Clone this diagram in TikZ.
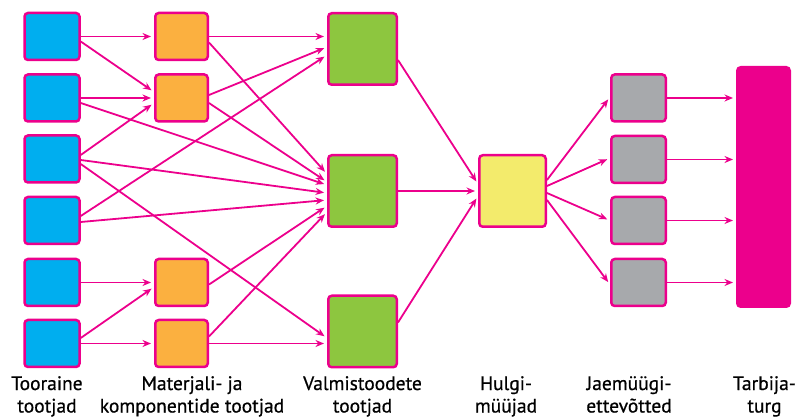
\documentclass[tikz,border=0pt]{standalone}
\usepackage{fontspec}
\newfontfamily\labelfont[FakeBold=0.7]{PT Sans}
\usetikzlibrary{calc,arrows.meta}
\definecolor{mag}{HTML}{EC008C}
\definecolor{cblue}{HTML}{00AEEF}
\definecolor{corange}{HTML}{FBB040}
\definecolor{cgreen}{HTML}{8DC63F}
\definecolor{cyellow}{HTML}{F3EB6C}
\definecolor{cgray}{HTML}{A7A9AC}
\begin{document}
\begin{tikzpicture}[x=1pt,y=-1pt,
  box/.style={draw=mag,line width=2.5pt,rounded corners=3.5pt,inner sep=0pt},
  small/.style={box,minimum width=55pt,minimum height=47pt},
  rawbox/.style={small,fill=cblue},
  matbox/.style={box,fill=corange,minimum width=52.5pt,minimum height=47pt},
  finbox/.style={box,fill=cgreen,minimum width=68.5pt,minimum height=71.5pt},
  wholebox/.style={box,fill=cyellow,minimum width=66.5pt,minimum height=71.5pt},
  retbox/.style={box,fill=cgray,minimum width=54.5pt,minimum height=47pt},
  marketbox/.style={box,fill=mag,minimum width=52.5pt,minimum height=239.5pt},
  flow/.style={draw=mag,line width=1.8pt,-{Stealth[length=8.5pt,width=7pt]},shorten >=3pt},
  lbl/.style={font=\labelfont\fontsize{19.5}{22.5}\selectfont,align=center,anchor=north,inner sep=0pt,text=black}]
\useasboundingbox (0,0) rectangle (795,419);
% raw material producers
\node[rawbox] (b1) at (52,36.5) {};
\node[rawbox] (b2) at (52,98) {};
\node[rawbox] (b3) at (52,159) {};
\node[rawbox] (b4) at (52,220.5) {};
\node[rawbox] (b5) at (52,282.5) {};
\node[rawbox] (b6) at (52,343.5) {};
% material producers
\node[matbox] (o1) at (181.5,36.5) {};
\node[matbox] (o2) at (181.5,98) {};
\node[matbox] (o5) at (181.5,282.5) {};
\node[matbox] (o6) at (181.5,343.5) {};
% finished goods
\node[finbox] (g1) at (362.5,49) {};
\node[finbox] (g2) at (362.5,191) {};
\node[finbox] (g3) at (362.5,331.5) {};
% wholesale
\node[wholebox] (y) at (512.5,191) {};
% retail
\node[retbox] (r1) at (638.5,98) {};
\node[retbox] (r2) at (638.5,159.5) {};
\node[retbox] (r3) at (638.5,220.5) {};
\node[retbox] (r4) at (638.5,282.5) {};
% consumer market
\node[marketbox] (m) at (763.5,187) {};
% edges
\draw[flow] (b1.east) -- (o1.west);
\draw[flow] ($(b1.east)+(0,5)$) -- ($(o2.west)+(0,-6)$);
\draw[flow] (b2.east) -- (o2.west);
\draw[flow] ($(b2.east)+(0,5)$) -- ($(g2.west)+(0,-6)$);
\draw[flow] ($(b3.east)+(0,-4)$) -- ($(o2.west)+(0,5)$);
\draw[flow] ($(b3.east)+(0,1)$) -- ($(g2.west)+(0,2)$);
\draw[flow] ($(b3.east)+(0,5)$) -- ($(g3.west)+(0,6.5)$);
\draw[flow] ($(b4.east)+(0,-4.5)$) -- ($(g1.west)+(0,6)$);
\draw[flow] ($(b4.east)+(0,1.5)$) -- ($(g2.west)+(0,9)$);
\draw[flow] (b5.east) -- (o5.west);
\draw[flow] ($(b6.east)+(0,-5.5)$) -- ($(o5.west)+(0,4.5)$);
\draw[flow] (b6.east) -- (o6.west);
\draw[flow] (o1.east) -- ($(g1.west)+(0,-12.5)$);
\draw[flow] ($(o1.east)+(0,6)$) -- ($(g2.west)+(0,-17)$);
\draw[flow] ($(o2.east)+(0,-3)$) -- ($(g1.west)+(0,-2)$);
\draw[flow] ($(o2.east)+(0,5)$) -- ($(g2.west)+(0,-9)$);
\draw[flow] ($(o5.east)+(0,2)$) -- ($(g2.west)+(0,15)$);
\draw[flow] ($(o6.east)+(0,-7)$) -- ($(g2.west)+(0,21)$);
\draw[flow] (o6.east) -- ($(g3.west)+(0,12)$);
\draw[flow] ($(g1.east)+(0,11)$) -- ($(y.west)+(0,-7)$);
\draw[flow] (g2.east) -- (y.west);
\draw[flow] ($(g3.east)+(0,-9)$) -- ($(y.west)+(0,5)$);
\draw[flow] ($(y.east)+(0,-11)$) -- ($(r1.west)+(0,-1)$);
\draw[flow] ($(y.east)+(0,-5)$) -- ($(r2.west)+(0,-1.5)$);
\draw[flow] ($(y.east)+(0,2)$) -- ($(r3.west)+(0,0)$);
\draw[flow] ($(y.east)+(0,9)$) -- ($(r4.west)+(0,2)$);
\draw[flow] (r1.east) -- (r1.east -| m.west);
\draw[flow] (r2.east) -- (r2.east -| m.west);
\draw[flow] (r3.east) -- (r3.east -| m.west);
\draw[flow] (r4.east) -- (r4.east -| m.west);
% labels
\node[lbl] (l1) at (47,376) {Tooraine\\tootjad};
\node[lbl] (l2) at (192,376) {Materjali- ja\\komponentide tootjad};
\node[lbl] (l3) at (362.5,376) {Valmistoodete\\tootjad};
\node[lbl] (l4) at (506,376) {Hulgi-\\müüjad};
\node[lbl] (l5) at (629,376) {Jaemüügi-\\ettevõtted};
\node[lbl] (l6) at (764.5,376) {Tarbija-\\turg};
\end{tikzpicture}
\end{document}
